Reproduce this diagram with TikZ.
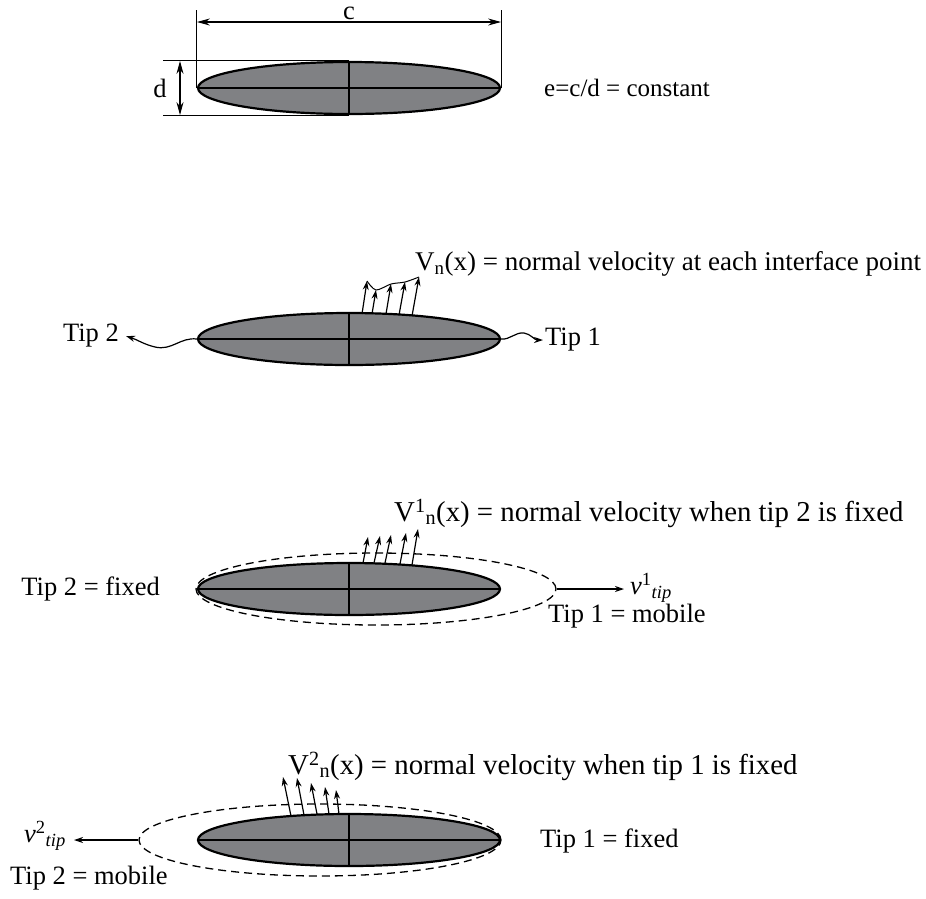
\documentclass[tikz,border=0pt]{standalone}
\usepackage{fontspec}
\setmainfont{Liberation Serif}
\usetikzlibrary{arrows.meta, shapes.geometric}

\definecolor{crackgray}{RGB}{128,129,132}

\tikzset{
  crack/.style={ellipse, draw, line width=2.2pt, fill=crackgray, minimum width=302pt, minimum height=52pt, inner sep=0pt},
  zone/.style={ellipse, draw, dash pattern=on 8pt off 5pt, line width=1.3pt, inner sep=0pt},
  axis/.style={line width=1.1pt},
  lbl/.style={font=\fontsize{26.5}{30}\selectfont, inner sep=0pt},
  biglbl/.style={font=\fontsize{28.8}{32}\selectfont, inner sep=0pt},
  vel/.style={-{Stealth[length=9pt,width=6pt]}, line width=1.2pt},
  dim/.style={{Stealth[length=13pt,width=7pt]}-{Stealth[length=13pt,width=7pt]}, line width=1.1pt},
}

\begin{document}
\begin{tikzpicture}[x=1pt, y=-1pt]
\useasboundingbox (0,0) rectangle (926,898);

% crack and its sizes
\node[crack] (e1) at (349,88) {};
\draw[axis] (e1.west) -- (e1.east) (e1.north) -- (e1.south);
\draw[axis] (e1.west) -- ++(0,-78);
\draw[axis] (e1.east) -- ++(0,-78);
\draw[dim] ([yshift=66pt]e1.west) -- ([yshift=66pt]e1.east);
\node[lbl] (c) at (349,13) {c};
\draw[axis] (e1.north) -- ++(-186,0);
\draw[axis] (e1.south) -- ++(-186,0);
\draw[dim] ([xshift=-169pt]e1.north) -- ([xshift=-169pt]e1.south);
\node[lbl] (d) at (160,88) {d};
\node[lbl, font=\fontsize{25}{28}\selectfont, anchor=west] (ratio) at (544,88) {e=c/d = constant};

% both tips moving
\node[crack] (e2) at (349,339) {};
\draw[axis] (e2.west) -- (e2.east) (e2.north) -- (e2.south);
\foreach \bx/\by/\tx/\ty in {362/314/367/281, 372/314/376/290, 386/314/391/284, 399/315/405/282, 412/316/419/277}
  \draw[vel] (\bx,\by) -- (\tx,\ty);
\draw[line width=1pt] plot[smooth] coordinates {(367,281) (376,290) (391,284) (405,282) (419,277)};
\node[lbl, font=\fontsize{27}{30}\selectfont, anchor=west] (vn) at (415,264) {V\textsubscript{n}(x) = normal velocity at each interface point};
\node[lbl, anchor=east] (tip2) at (119,336) {Tip 2};
\node[lbl, anchor=west] (tip1) at (545,340) {Tip 1};
\draw[vel] (e2.west) .. controls (180,337) and (172,351) .. (155,347) .. controls (143,344) and (138,340) .. ([xshift=7pt]tip2.east);
\draw[vel] (e2.east) .. controls (510,340) and (515,332) .. (524,333) .. controls (531,334) and (534,340) .. ([xshift=-2pt]tip1.west);

% tip 2 fixed
\node[zone, minimum width=360pt, minimum height=72pt] (z3) at (376,589) {};
\node[crack] (e3) at (349,589) {};
\draw[axis] (e3.west) -- (e3.east) (e3.north) -- (e3.south);
\foreach \bx/\by/\tx/\ty in {363/563/368/537, 374/563/380/536, 385/563/391/535, 400/564/406/533, 412/565/418/529}
  \draw[vel] (\bx,\by) -- (\tx,\ty);
\node[biglbl, anchor=west] (v1n) at (394,513) {V\textsuperscript{1}\textsubscript{n}(x) = normal velocity when tip 2 is fixed};
\node[lbl, anchor=east] (fix2) at (160,589) {Tip 2 = fixed};
\node[lbl, anchor=west] (v1tip) at (630,588) {\textit{v}\textsuperscript{1}\textsubscript{\textit{tip}}};
\draw[vel] (z3.east) -- ([xshift=-6pt]v1tip.west |- z3.east);
\node[lbl, anchor=west] (mob1) at (548,616) {Tip 1 = mobile};

% tip 1 fixed
\node[zone, minimum width=362pt, minimum height=72pt] (z4) at (320,840) {};
\node[crack] (e4) at (349,840) {};
\draw[axis] (e4.west) -- (e4.east) (e4.north) -- (e4.south);
\foreach \bx/\by/\tx/\ty in {291/816/283/777, 304/815/297/778, 317/814/311/783, 329/814/325/787, 339/814/336/790}
  \draw[vel] (\bx,\by) -- (\tx,\ty);
\node[biglbl, anchor=west] (v2n) at (288,766) {V\textsuperscript{2}\textsubscript{n}(x) = normal velocity when tip 1 is fixed};
\node[lbl, anchor=east] (v2tip) at (66,836) {\textit{v}\textsuperscript{2}\textsubscript{\textit{tip}}};
\draw[vel] (z4.west) -- ([xshift=8pt]v2tip.east |- z4.west);
\node[lbl, anchor=west] (fix1) at (540,841) {Tip 1 = fixed};
\node[lbl, anchor=west] (mob2) at (10,878) {Tip 2 = mobile};
\end{tikzpicture}
\end{document}
